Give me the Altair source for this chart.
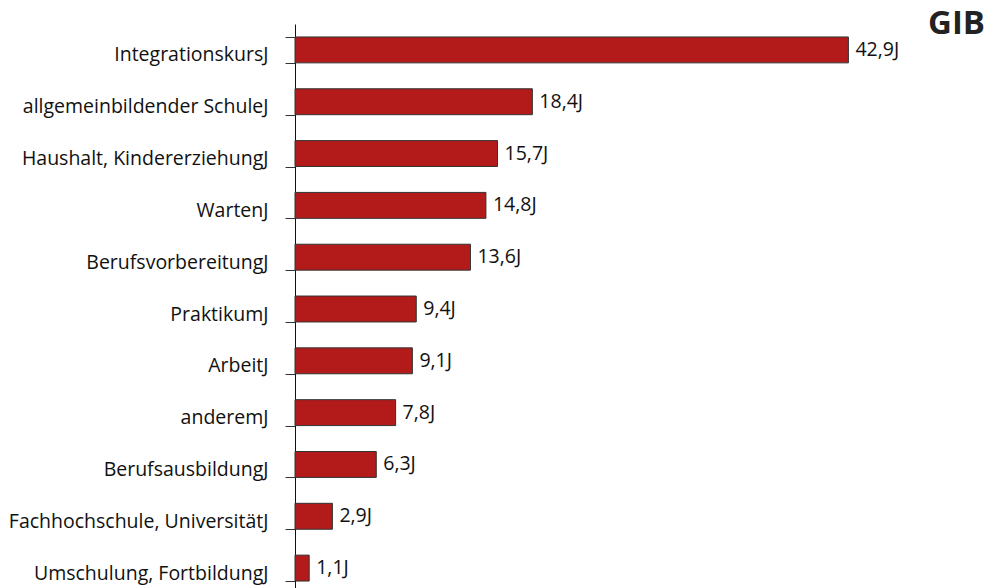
import altair as alt
import pandas as pd

categories = [
    "IntegrationskursJ",
    "allgemeinbildender SchuleJ",
    "Haushalt, KindererziehungJ",
    "WartenJ",
    "BerufsvorbereitungJ",
    "PraktikumJ",
    "ArbeitJ",
    "anderemJ",
    "BerufsausbildungJ",
    "Fachhochschule, UniversitätJ",
    "Umschulung, FortbildungJ",
]
values = [42.9, 18.4, 15.7, 14.8, 13.6, 9.4, 9.1, 7.8, 6.3, 2.9, 1.1]
value_labels = ["42,9J", "18,4J", "15,7J", "14,8J", "13,6J", "9,4J", "9,1J", "7,8J", "6,3J", "2,9J", "1,1J"]

df = pd.DataFrame({"cat": categories, "val": values, "lab": value_labels})

FONT = "Open Sans"
W = 645
H = 570

y_enc = alt.Y(
    "cat:N",
    sort=categories,
    scale=alt.Scale(paddingInner=0.5, paddingOuter=0.25),
    axis=alt.Axis(
        title=None,
        tickBand="extent",
        tickSize=10,
        tickColor="#333333",
        domainColor="#111111",
        labelPadding=17,
        labelOffset=5,
        labelFont=FONT,
        labelFontSize=19.5,
        labelColor="#111111",
        labelLimit=400,
    ),
)
x_enc = alt.X("val:Q", scale=alt.Scale(domain=[0, 50]), axis=None)

bars = alt.Chart(df).mark_bar(color="#B31B1B", stroke="#333333", strokeWidth=1).encode(
    y=y_enc, x=x_enc
)
texts = alt.Chart(df).mark_text(
    align="left", baseline="middle", dx=7, font=FONT, fontSize=19.5, color="#111111"
).encode(y=alt.Y("cat:N", sort=categories), x="val:Q", text="lab:N")

logo = alt.Chart(pd.DataFrame({"t": ["GIB"]})).mark_text(
    align="right", baseline="alphabetic", font=FONT, fontSize=33, fontWeight="bold", color="#222222"
).encode(text="t:N", x=alt.value(690), y=alt.value(10))

chart = (
    alt.layer(bars, texts, logo)
    .properties(
        width=W,
        height=H,
        background="white",
        autosize=alt.AutoSizeParams(type="none"),
        padding={"left": 287, "top": 16, "right": 45, "bottom": 0},
    )
    .configure_view(strokeWidth=0, stroke="transparent")
)

chart.save("out.html", embed_options={"renderer": "svg", "actions": False})
